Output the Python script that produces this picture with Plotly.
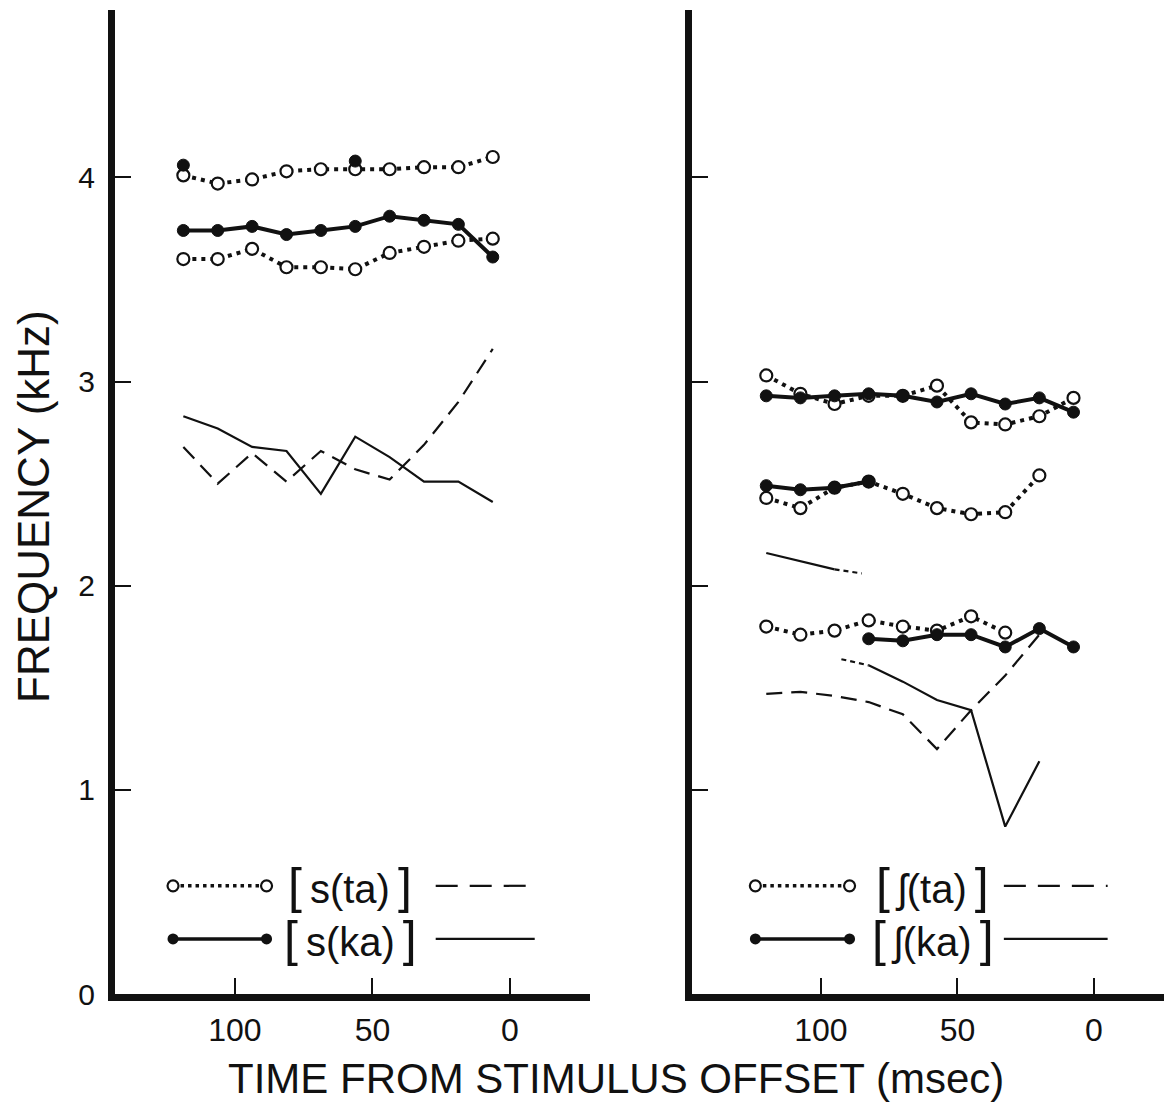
import plotly.graph_objects as go

# ---------------- data ----------------
# time from stimulus offset (ms)
t_left = [118.75, 106.25, 93.75, 81.25, 68.75, 56.25, 43.75, 31.25, 18.75, 6.25]
t_right = [120, 107.5, 95, 82.5, 70, 57.5, 45, 32.5, 20, 7.5]

# left panel  [s(ta)] / [s(ka)]  (kHz)
s_ta_upper = [4.01, 3.97, 3.99, 4.03, 4.04, 4.04, 4.04, 4.05, 4.05, 4.10]
s_ka_upper = [3.74, 3.74, 3.76, 3.72, 3.74, 3.76, 3.81, 3.79, 3.77, 3.61]
s_ta_lower = [3.60, 3.60, 3.65, 3.56, 3.56, 3.55, 3.63, 3.66, 3.69, 3.70]
s_ka_extra_t = [118.75, 56.25]
s_ka_extra = [4.06, 4.08]
s_ta_thin = [2.68, 2.50, 2.65, 2.51, 2.66, 2.57, 2.52, 2.69, 2.90, 3.16]
s_ka_thin = [2.83, 2.77, 2.68, 2.66, 2.45, 2.73, 2.63, 2.51, 2.51, 2.41]

# right panel  [ʃ(ta)] / [ʃ(ka)]  (kHz)
sh_ta_1 = [3.03, 2.94, 2.89, 2.93, 2.93, 2.98, 2.80, 2.79, 2.83, 2.92]
sh_ka_1 = [2.93, 2.92, 2.93, 2.94, 2.93, 2.90, 2.94, 2.89, 2.92, 2.85]
sh_ta_2 = [2.43, 2.38, 2.48, 2.51, 2.45, 2.38, 2.35, 2.36, 2.54]
sh_ka_2 = [2.49, 2.47, 2.48, 2.51]
sh_ta_3 = [1.80, 1.76, 1.78, 1.83, 1.80, 1.78, 1.85, 1.77]
sh_ka_3 = [1.74, 1.73, 1.76, 1.76, 1.70, 1.79, 1.70]
sh_ta_thin = [1.47, 1.48, 1.46, 1.43, 1.37, 1.20, 1.39, 1.56, 1.76]
sh_ka_thin_a_t = [120, 107.5, 95, 85]
sh_ka_thin_a = [2.16, 2.12, 2.08, 2.06]
sh_ka_thin_b_t = [92.5, 82.5, 70, 57.5, 45, 32.5, 20]
sh_ka_thin_b = [1.64, 1.61, 1.53, 1.44, 1.39, 0.82, 1.14]

x_ticks = [100, 50, 0]
y_ticks = [0, 1, 2, 3, 4]
legend_left = ["[s(ta)]", "[s(ka)]"]
legend_right = ["[ʃ(ta)]", "[ʃ(ka)]"]

# ---------------- styles ----------------
BLACK = "#111111"
FONT = "Liberation Sans"
DOT = "4px,5px"
DASH = "16px,9px"
open_marker = dict(symbol="circle", size=12, color="white", line=dict(color=BLACK, width=2.2))
fill_marker = dict(symbol="circle", size=12, color=BLACK, line=dict(color=BLACK, width=1))

# page body has an 8px margin: lay out in page pixels minus this offset
OFF = 8
W, H = 1172, 1105 - OFF


def fx(px):
    return (px - OFF) / W


def fy(py):
    return 1 - (py - OFF) / H


fig = go.Figure()


def thin(x, y, dash, xa, ya):
    fig.add_trace(go.Scatter(x=x, y=y, mode="lines", xaxis=xa, yaxis=ya, showlegend=False,
                             line=dict(color=BLACK, width=2.2, dash=dash)))


def ta(x, y, xa, ya):
    fig.add_trace(go.Scatter(x=x, y=y, mode="lines+markers", xaxis=xa, yaxis=ya, showlegend=False,
                             line=dict(color=BLACK, width=4, dash=DOT), marker=open_marker))


def ka(x, y, xa, ya, mode="lines+markers"):
    fig.add_trace(go.Scatter(x=x, y=y, mode=mode, xaxis=xa, yaxis=ya, showlegend=False,
                             line=dict(color=BLACK, width=4), marker=fill_marker))


# left panel
thin(t_left, s_ta_thin, DASH, "x", "y")
thin(t_left, s_ka_thin, "solid", "x", "y")
ta(t_left, s_ta_upper, "x", "y")
ta(t_left, s_ta_lower, "x", "y")
ka(t_left, s_ka_upper, "x", "y")
ka(s_ka_extra_t, s_ka_extra, "x", "y", mode="markers")

# right panel
thin(t_right[:9], sh_ta_thin, DASH, "x2", "y2")
thin(sh_ka_thin_a_t[:3], sh_ka_thin_a[:3], "solid", "x2", "y2")
thin(sh_ka_thin_a_t[2:], sh_ka_thin_a[2:], "5px,4px", "x2", "y2")
thin(sh_ka_thin_b_t[:2], sh_ka_thin_b[:2], "5px,4px", "x2", "y2")
thin(sh_ka_thin_b_t[1:], sh_ka_thin_b[1:], "solid", "x2", "y2")
ta(t_right, sh_ta_1, "x2", "y2")
ta(t_right[:9], sh_ta_2, "x2", "y2")
ta(t_right[:8], sh_ta_3, "x2", "y2")
ka(t_right, sh_ka_1, "x2", "y2")
ka(t_right[:4], sh_ka_2, "x2", "y2")
ka(t_right[3:], sh_ka_3, "x2", "y2")

# legend keys (drawn inside each panel)
LEG_Y = [0.53, 0.27]
for xa, ya, keyx, linex, textx, labels in [
    ("x", "y", [122.5, 88.5], [27, -9], 58, legend_left),
    ("x2", "y2", [124, 89.5], [33, -5], 59, legend_right),
]:
    thin(linex, [LEG_Y[0], LEG_Y[0]], "22px,12px", xa, ya)
    thin(linex, [LEG_Y[1], LEG_Y[1]], "solid", xa, ya)
    fig.add_trace(go.Scatter(x=keyx, y=[LEG_Y[0]] * 2, mode="lines+markers", xaxis=xa, yaxis=ya,
                             showlegend=False, line=dict(color=BLACK, width=3.5, dash="3.5px,4px"),
                             marker=dict(symbol="circle", size=11, color="white",
                                         line=dict(color=BLACK, width=2.2))))
    fig.add_trace(go.Scatter(x=keyx, y=[LEG_Y[1]] * 2, mode="lines+markers", xaxis=xa, yaxis=ya,
                             showlegend=False, line=dict(color=BLACK, width=3.5),
                             marker=dict(symbol="circle", size=11, color=BLACK)))
    for ly, lab in zip(LEG_Y, labels):
        inner = lab[1:-1]
        txt = ('<span style="font-size:50px;font-weight:300">[</span>\u2009' + inner +
               '\u2009<span style="font-size:50px;font-weight:300">]</span>')
        fig.add_annotation(x=textx, y=ly, xref=xa, yref=ya, text=txt, showarrow=False,
                           font=dict(family=FONT, size=40, color=BLACK), xanchor="center",
                           yanchor="middle")

axis_common = dict(showline=True, linewidth=7, linecolor=BLACK, showgrid=False, zeroline=False,
                   ticks="inside", ticklen=16, tickwidth=2, tickcolor=BLACK, mirror=False,
                   automargin=False,
                   tickfont=dict(family=FONT, size=32, color=BLACK))

Y_DOM = [fy(994), fy(10)]
fig.update_layout(
    width=W, height=H,
    margin=dict(l=0, r=0, t=0, b=0, autoexpand=False),
    paper_bgcolor="white", plot_bgcolor="white",
    xaxis=dict(domain=[fx(115), fx(590)], range=[143.6, -29.1], tickvals=x_ticks,
               anchor="y", ticklabelstandoff=2, **axis_common),
    yaxis=dict(domain=Y_DOM, range=[0, 4.82], tickvals=y_ticks, anchor="x",
               ticklabelstandoff=7, **{**axis_common, "tickfont": dict(family=FONT, size=30, color=BLACK)}),
    xaxis2=dict(domain=[fx(692), 1.0], range=[147.2, -31.5], tickvals=x_ticks,
                anchor="y2", ticklabelstandoff=2, **axis_common),
    yaxis2=dict(domain=Y_DOM, range=[0, 4.82], tickvals=y_ticks, anchor="x2",
                showticklabels=False, **axis_common),
)

fig.add_annotation(x=fx(33), y=fy(507), xref="paper", yref="paper", xanchor="center",
                   yanchor="middle", text="FREQUENCY (kHz)", textangle=-90, showarrow=False,
                   font=dict(family=FONT, size=44, color=BLACK))
fig.add_annotation(x=fx(616), y=fy(1078), xref="paper", yref="paper", xanchor="center",
                   yanchor="middle", text="TIME FROM STIMULUS OFFSET (msec)", showarrow=False,
                   font=dict(family=FONT, size=42, color=BLACK))

fig.write_html("out.html")
